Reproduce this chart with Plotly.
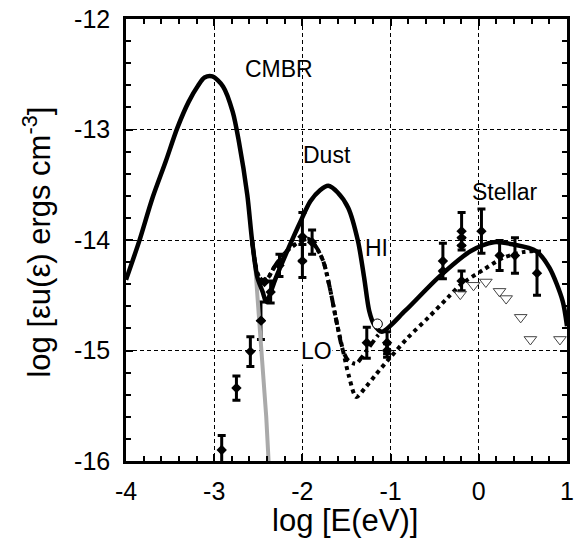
import plotly.graph_objects as go

# ---- curve data (log E [eV], log eps*u [erg cm^-3]) ----
hi_x = [-4.0, -3.85, -3.70, -3.55, -3.42, -3.29, -3.18, -3.11, -3.02, -2.90, -2.79, -2.72, -2.625, -2.57, -2.51, -2.45, -2.41,
        -2.30, -2.15, -2.02, -1.91, -1.80, -1.707, -1.60, -1.48, -1.37, -1.30, -1.243, -1.19, -1.10,
        -0.834, -0.46, -0.09, 0.17, 0.39, 0.65, 0.80, 0.95, 1.0]
hi_y = [-14.36, -14.01, -13.62, -13.29, -12.99, -12.75, -12.60, -12.53, -12.52, -12.61, -12.84, -13.11, -13.59, -14.01, -14.34, -14.47, -14.56,
        -14.34, -14.06, -13.83, -13.65, -13.55, -13.51, -13.57, -13.71, -14.01, -14.34, -14.64, -14.76, -14.83,
        -14.64, -14.34, -14.10, -14.02, -14.04, -14.10, -14.25, -14.55, -14.78]

lo_x = [-2.57, -2.51, -2.46, -2.40, -2.30, -2.15, -2.02, -1.93, -1.84, -1.76, -1.69, -1.61, -1.54,
        -1.48, -1.39, -1.335, -1.15, -1.10]
lo_y = [-14.01, -14.30, -14.36, -14.35, -14.22, -14.08, -14.01, -13.99, -14.07, -14.20, -14.43, -14.75, -15.00,
        -15.09, -15.12, -15.07, -14.87, -14.83]

low_x = [-2.57, -2.51, -2.46, -2.40, -2.30, -2.15, -2.02, -1.93, -1.84, -1.76, -1.69, -1.61, -1.54,
         -1.47, -1.39, -1.28, -1.17, -1.00, -0.80, -0.57, -0.35, -0.20, 0.05, 0.28, 0.50, 0.62]
low_y = [-14.01, -14.30, -14.36, -14.35, -14.22, -14.08, -14.01, -13.99, -14.07, -14.20, -14.43, -14.75, -15.00,
         -15.24, -15.42, -15.33, -15.22, -15.06, -14.88, -14.70, -14.52, -14.40, -14.27, -14.16, -14.11, -14.10]

cmbr_tail_x = [-2.57, -2.53, -2.506, -2.47, -2.41, -2.38]
cmbr_tail_y = [-14.01, -14.28, -14.55, -14.91, -15.60, -16.05]

# ---- measurements with error bars ----
obs_x = [-2.915, -2.748, -2.59, -2.47, -2.43, -2.36, -2.26, -2.0, -2.0, -1.89,
         -1.27, -1.04, -1.04,
         -0.407, -0.407, -0.195, -0.195, -0.195, -0.195, 0.03, 0.236, 0.41, 0.66]
obs_y = [-15.90, -15.34, -15.01, -14.73, -14.38, -14.47, -14.23, -13.97, -14.19, -14.02,
         -14.93, -14.93, -15.00,
         -14.19, -14.28, -13.92, -13.98, -14.05, -14.37, -13.92, -14.14, -14.14, -14.30]
obs_err = [0.13, 0.11, 0.135, 0.17, 0.0, 0.1, 0.1, 0.22, 0.15, 0.11,
           0.14, 0.1, 0.06,
           0.16, 0.0, 0.17, 0.0, 0.0, 0.09, 0.2, 0.135, 0.16, 0.2]

# open circle
circ_x = [-1.15]
circ_y = [-14.76]

# upper limits (open triangles)
lim_x = [-0.21, -0.06, 0.08, 0.235, 0.31, 0.475, 0.585, 0.92]
lim_y = [-14.49, -14.41, -14.38, -14.465, -14.53, -14.70, -14.90, -14.90]

x_ticks = [-4, -3, -2, -1, 0, 1]
x_ticktext = ["-4", "-3", "-2", "-1", "0", "1"]
y_ticks = [-16, -15, -14, -13, -12]
y_ticktext = ["-16", "-15", "-14", "-13", "-12"]

FONT = "Arial, Liberation Sans, sans-serif"

fig = go.Figure()

fig.add_trace(go.Scatter(x=obs_x, y=obs_y, mode="markers",
                         marker=dict(symbol="diamond", size=8, color="black"),
                         error_y=dict(type="data", array=obs_err, color="black", thickness=3, width=4),
                         showlegend=False))

fig.add_trace(go.Scatter(x=cmbr_tail_x, y=cmbr_tail_y, mode="lines",
                         line=dict(color="#aaaaaa", width=4), showlegend=False))

fig.add_trace(go.Scatter(x=low_x, y=low_y, mode="lines",
                         line=dict(color="black", width=4, dash="dot", shape="spline", smoothing=0.8),
                         showlegend=False))
fig.add_trace(go.Scatter(x=lo_x, y=lo_y, mode="lines",
                         line=dict(color="black", width=4, dash="8px,4px,3px,4px", shape="spline", smoothing=0.8),
                         showlegend=False))
fig.add_trace(go.Scatter(x=hi_x, y=hi_y, mode="lines",
                         line=dict(color="black", width=4.5, shape="spline", smoothing=0.8),
                         showlegend=False))

fig.add_trace(go.Scatter(x=[obs_x[3]], y=[obs_y[3]], mode="markers",
                         marker=dict(symbol="diamond", size=8, color="black"), showlegend=False))

fig.add_trace(go.Scatter(x=circ_x, y=circ_y, mode="markers",
                         marker=dict(symbol="circle", size=10, color="white",
                                     line=dict(color="black", width=1)), showlegend=False))

fig.add_trace(go.Scatter(x=lim_x, y=lim_y, mode="markers",
                         marker=dict(symbol="triangle-down", size=11, color="rgba(0,0,0,0)",
                                     line=dict(color="#444444", width=1)), showlegend=False))

labels = [("CMBR", -2.266, -12.45, False), ("Dust", -1.72, -13.23, False),
          ("Stellar", 0.30, -13.57, False), ("HI", -1.157, -14.07, True), ("LO", -1.837, -15.0, True)]
for txt, lx, ly, bg in labels:
    fig.add_annotation(x=lx, y=ly, text=txt, showarrow=False, xanchor="center", yanchor="middle",
                       font=dict(family=FONT, size=23, color="black"),
                       bgcolor="white" if bg else "rgba(0,0,0,0)", borderpad=0)

fig.add_annotation(xref="paper", yref="paper", x=-0.201, y=0.495, textangle=-90,
                   text="log [εu(ε) ergs cm<sup>-3</sup>]", showarrow=False,
                   xanchor="center", yanchor="middle", font=dict(family=FONT, size=31, color="black"))
fig.add_annotation(xref="paper", yref="paper", x=0.497, y=-0.135,
                   text="log [E(eV)]", showarrow=False,
                   xanchor="center", yanchor="middle", font=dict(family=FONT, size=31, color="black"))

axis_common = dict(
    showline=True, linecolor="black", linewidth=2.5, mirror="allticks",
    ticks="inside", ticklen=7, tickwidth=1.5, tickcolor="black",
    showgrid=True, gridcolor="black", gridwidth=1, griddash="4px,3px",
    zeroline=False, tickmode="array",
    tickfont=dict(family=FONT, size=25, color="black"),
    minor=dict(dtick=0.2, ticks="inside", ticklen=5, tickwidth=1.5, tickcolor="black", showgrid=False),
)

fig.update_xaxes(range=[-4, 1], tickvals=x_ticks, ticktext=x_ticktext, ticklabelstandoff=6, **axis_common)
fig.update_yaxes(range=[-16, -12], tickvals=y_ticks, ticktext=y_ticktext, ticklabelstandoff=8, **axis_common)
fig.update_xaxes(minor=dict(tick0=-4))
fig.update_yaxes(minor=dict(tick0=-16))

fig.update_layout(width=579, height=552, margin=dict(l=126, r=5, t=17, b=91),
                  plot_bgcolor="white", paper_bgcolor="white", showlegend=False)

fig.write_html("out.html")
